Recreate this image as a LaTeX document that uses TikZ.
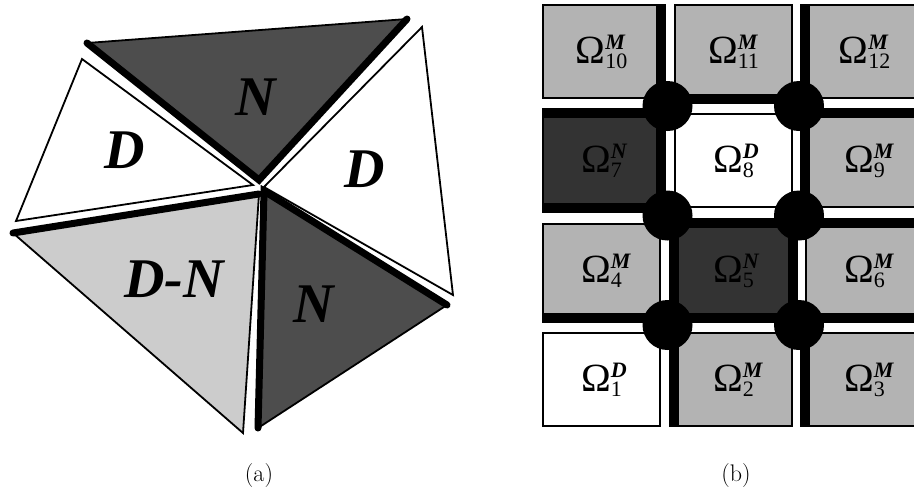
\documentclass[tikz,border=0pt]{standalone}
\usepackage{fontspec}
\newfontfamily\tms{Liberation Serif}
\definecolor{ndark}{HTML}{4D4D4D}
\definecolor{dnlight}{HTML}{CCCCCC}
\definecolor{mgray}{HTML}{B3B3B3}
\definecolor{ngray}{HTML}{333333}
% Omega label with a bold italic superscript and an upright subscript
\newcommand\omlab[2]{{\tms\fontsize{40}{40}\selectfont Ω}%
  \rlap{\raisebox{14pt}{\tms\fontsize{22}{22}\selectfont\bfseries\itshape #1}}%
  \raisebox{-5pt}{\tms\fontsize{22}{22}\selectfont #2}}
\tikzset{
  tri/.style={draw=black, line width=1.8pt, line join=miter},
  bold edge/.style={line width=7pt, line cap=round},
  tlabel/.style={font=\tms\bfseries\itshape\fontsize{56}{56}\selectfont, inner sep=0pt, anchor=base},
  sub/.style={draw=black, line width=1.8pt, minimum width=117pt, minimum height=93pt, inner sep=0pt, anchor=center},
  msub/.style={sub, fill=mgray},
  nsub/.style={sub, fill=ngray},
  dsub/.style={sub, fill=white},
  iface/.style={line width=9.5pt},
  cross/.style={circle, fill=black, minimum size=50pt, inner sep=0pt},
  caption/.style={font=\fontsize{24}{24}\selectfont, anchor=base, inner sep=0pt}
}
\begin{document}
\begin{tikzpicture}[x=1pt, y=-1pt]
\useasboundingbox (0,0) rectangle (914,488);
\begin{scope}
\clip (0,0) rectangle (914,488);

% ---- (a) patch of triangles around a vertex ----
\coordinate (tnA) at (87,43);
\coordinate (tnB) at (407,19);
\coordinate (tnO) at (259,180);
\coordinate (ldA) at (82,59);
\coordinate (ldB) at (16,221);
\coordinate (ldO) at (253,185);
\coordinate (rdA) at (422,27);
\coordinate (rdB) at (453,295);
\coordinate (rdO) at (264,187);
\coordinate (dnA) at (13,233);
\coordinate (dnO) at (259,194);
\coordinate (dnB) at (243,433);
\coordinate (bnO) at (264,191);
\coordinate (bnA) at (447,305);
\coordinate (bnB) at (258,428);

\fill[ndark] (tnA) -- (tnB) -- (tnO) -- cycle;
\draw[tri] (tnA) -- (tnB) -- (tnO) -- cycle;
\draw[tri, fill=white] (ldA) -- (ldB) -- (ldO) -- cycle;
\draw[tri, fill=white] (rdA) -- (rdB) -- (rdO) -- cycle;
\draw[tri, fill=dnlight] (dnA) -- (dnO) -- (dnB) -- cycle;
\draw[tri, fill=ndark] (bnO) -- (bnA) -- (bnB) -- cycle;

\draw[bold edge] (tnA) -- (tnO) -- (tnB);
\draw[bold edge] (dnA) -- (dnO);
\draw[bold edge] (bnB) -- (bnO) -- (bnA);

\node[tlabel] (labtn) at (256,115) {N};
\node[tlabel] (labld) at (125,168) {D};
\node[tlabel] (labrd) at (365,187) {D};
\node[tlabel] (labdn) at (174,297) {D-N};
\node[tlabel] (labbn) at (314,322) {N};

% ---- (b) grid of subdomains ----
\node[msub] (b10) at (601.5,51.5) {\omlab{M}{10}};
\node[msub] (b11) at (733.5,51.5) {\omlab{M}{11}};
\node[msub] (b12) at (864.5,51.5) {\omlab{M}{12}};
\node[nsub] (b7)  at (601.5,160.5) {\omlab{N}{7}};
\node[dsub] (b8)  at (733.5,160.5) {\omlab{D}{8}};
\node[msub] (b9)  at (864.5,160.5) {\omlab{M}{9}};
\node[msub] (b4)  at (601.5,270.5) {\omlab{M}{4}};
\node[nsub] (b5)  at (733.5,270.5) {\omlab{N}{5}};
\node[msub] (b6)  at (864.5,270.5) {\omlab{M}{6}};
\node[dsub] (b1)  at (601.5,379.5) {\omlab{D}{1}};
\node[msub] (b2)  at (733.5,379.5) {\omlab{M}{2}};
\node[msub] (b3)  at (864.5,379.5) {\omlab{M}{3}};

% cross points
\coordinate (c1) at (667.5,106);
\coordinate (c2) at (799,106);
\coordinate (c3) at (667.5,215.5);
\coordinate (c4) at (799,215.5);
\coordinate (c5) at (667.5,325);
\coordinate (c6) at (799,325);

% heavy interface segments along subdomain edges
\draw[iface] (b10.north east) -- (b10.east |- c1);
\draw[iface] (b11.south -| c1) -- (b11.south -| c2);
\draw[iface] (b12.north west) -- (b12.west |- c2);
\draw[iface] (b7.north west) -- (b7.north -| c1);
\draw[iface] (b9.north -| c2) -- (b9.north east);
\draw[iface] (b7.east |- c1) -- (b7.east |- c3);
\draw[iface] (b7.south west) -- (b7.south -| c3);
\draw[iface] (b9.west |- c2) -- (b9.west |- c4);
\draw[iface] (b5.north -| c3) -- (b6.north east);
\draw[iface] (b5.west |- c3) -- (b5.west |- c5);
\draw[iface] (b5.east |- c4) -- (b5.east |- c6);
\draw[iface] (b4.south west) -- (b6.south east);
\draw[iface] (b2.west |- c5) -- (b2.south west);
\draw[iface] (b3.west |- c6) -- (b3.south west);

\node[cross] (x1) at (c1) {};
\node[cross] (x2) at (c2) {};
\node[cross] (x3) at (c3) {};
\node[cross] (x4) at (c4) {};
\node[cross] (x5) at (c5) {};
\node[cross] (x6) at (c6) {};
\end{scope}

\node[caption] (capa) at (259,481) {(a)};
\node[caption] (capb) at (736,481) {(b)};
\end{tikzpicture}
\end{document}
